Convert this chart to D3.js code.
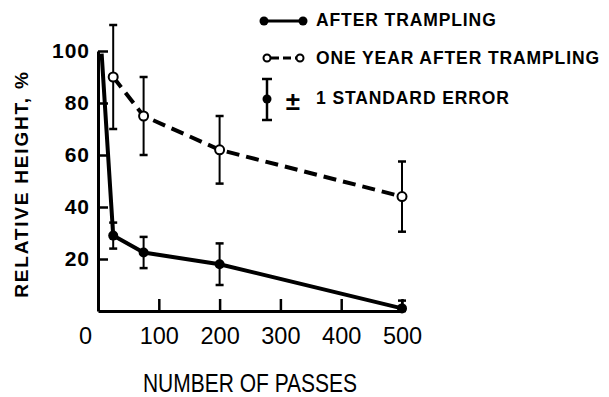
<!DOCTYPE html>
<html>
<head>
<meta charset="utf-8">
<script src="https://cdn.jsdelivr.net/npm/d3@7"></script>
<style>
  body { margin: 0; background: #fff; }
  svg { display: block; }
</style>
</head>
<body>
<div id="chart"></div>
<script>
// values
const afterPasses = [6, 25, 75, 200, 500];
const afterMeans  = [99, 29, 22.5, 18, 1];
const afterSE     = [0, 5, 6, 8, 3];

const yearPasses = [25, 75, 200, 500];
const yearMeans  = [90, 75, 62, 44];
const yearSE     = [20, 15, 13, 13.5];

const xTicks = [0, 100, 200, 300, 400, 500];
const yTicks = [20, 40, 60, 80, 100];

const legendLabels = ['AFTER TRAMPLING', 'ONE YEAR AFTER TRAMPLING', '1 STANDARD ERROR'];

const width = 609, height = 397;

const svg = d3.select('#chart').append('svg')
    .attr('width', width)
    .attr('height', height);

const xScale = d3.scaleLinear().domain([0, 500]).range([98, 402]);
const yScale = d3.scaleLinear().domain([0, 100]).range([311, 51]);

const after = afterPasses.map((p, i) => ({ x: p, y: afterMeans[i], se: afterSE[i] }));
const year = yearPasses.map((p, i) => ({ x: p, y: yearMeans[i], se: yearSE[i] }));

// axes
const xAxis = d3.axisBottom(xScale)
    .tickValues(xTicks)
    .tickSizeInner(-12)
    .tickSizeOuter(0)
    .tickPadding(16)
    .tickFormat(d3.format('d'));

const yAxis = d3.axisLeft(yScale)
    .tickValues(yTicks)
    .tickSizeInner(-10)
    .tickSizeOuter(0)
    .tickPadding(8);

const gx = svg.append('g')
    .attr('transform', `translate(0, ${yScale(0)})`)
    .call(xAxis);
gx.select('.domain').attr('stroke', '#000').attr('stroke-width', 3);
gx.selectAll('.tick line').attr('stroke-width', 2.5).attr('stroke', d => d === 0 ? 'none' : '#000');
gx.selectAll('.tick text')
    .attr('font-family', '"Liberation Sans", Arial, sans-serif')
    .attr('font-size', 23.5)
    .attr('fill', '#000')
    .attr('dx', d => d === 0 ? -13 : 0);

const gy = svg.append('g')
    .attr('transform', `translate(${xScale(0)}, 0)`)
    .call(yAxis);
gy.select('.domain').attr('stroke', '#000').attr('stroke-width', 3);
gy.selectAll('.tick line').attr('stroke-width', 2.5).attr('stroke', '#000');
gy.selectAll('.tick text')
    .attr('font-family', '"Liberation Sans", Arial, sans-serif')
    .attr('font-weight', 'bold')
    .attr('font-size', 21)
    .attr('letter-spacing', 1)
    .attr('fill', '#000');

// axis titles
svg.append('text')
    .attr('transform', `translate(28, 184) rotate(-90)`)
    .attr('text-anchor', 'middle')
    .attr('font-family', '"Liberation Sans", Arial, sans-serif')
    .attr('font-weight', 'bold')
    .attr('font-size', 19)
    .attr('letter-spacing', 1.8)
    .text('RELATIVE HEIGHT, %');

svg.append('text')
    .attr('transform', 'translate(250, 392) scale(0.84, 1)')
    .attr('text-anchor', 'middle')
    .attr('font-family', '"Liberation Sans", Arial, sans-serif')
    .attr('font-size', 25)
    .text('NUMBER OF PASSES');

// lines
const line = d3.line().x(d => xScale(d.x)).y(d => yScale(d.y));

svg.append('path')
    .datum(after)
    .attr('d', line)
    .attr('fill', 'none')
    .attr('stroke', '#000')
    .attr('stroke-width', 4)
    .attr('stroke-linejoin', 'round');

svg.append('path')
    .datum(year)
    .attr('d', line)
    .attr('fill', 'none')
    .attr('stroke', '#000')
    .attr('stroke-width', 4)
    .attr('stroke-dasharray', '13,7');

// error bars
function errorBars(data) {
    const g = svg.append('g').attr('stroke', '#000');
    const bars = data.filter(d => d.se > 0);
    g.selectAll('line.v').data(bars).enter().append('line')
        .attr('x1', d => xScale(d.x)).attr('x2', d => xScale(d.x))
        .attr('y1', d => yScale(d.y + d.se))
        .attr('y2', d => yScale(Math.max(0, d.y - d.se)))
        .attr('stroke-width', 2);
    g.selectAll('line.top').data(bars).enter().append('line')
        .attr('x1', d => xScale(d.x) - 4).attr('x2', d => xScale(d.x) + 4)
        .attr('y1', d => yScale(d.y + d.se)).attr('y2', d => yScale(d.y + d.se))
        .attr('stroke-width', 2.5);
    g.selectAll('line.bot').data(bars).enter().append('line')
        .attr('x1', d => xScale(d.x) - 4).attr('x2', d => xScale(d.x) + 4)
        .attr('y1', d => yScale(Math.max(0, d.y - d.se))).attr('y2', d => yScale(Math.max(0, d.y - d.se)))
        .attr('stroke-width', 2.5);
}
errorBars(after);
errorBars(year);

// markers
svg.selectAll('circle.after')
    .data(after.slice(1))
    .enter().append('circle')
    .attr('cx', d => xScale(d.x))
    .attr('cy', d => yScale(d.y))
    .attr('r', 5)
    .attr('fill', '#000');

svg.selectAll('circle.year')
    .data(year)
    .enter().append('circle')
    .attr('cx', d => xScale(d.x))
    .attr('cy', d => yScale(d.y))
    .attr('r', 4.5)
    .attr('fill', '#fff')
    .attr('stroke', '#000')
    .attr('stroke-width', 2);

// legend
const legend = svg.append('g').attr('font-family', '"Liberation Sans", Arial, sans-serif');
const rowY = [20, 58, 98];

const labels = legend.selectAll('text.lab')
    .data(legendLabels)
    .enter().append('text')
    .attr('x', 316)
    .attr('y', (d, i) => rowY[i] + 6)
    .attr('font-weight', 'bold')
    .attr('font-size', 17.5)
    .text(d => d);

// spread letters so the longest label reaches the right edge like the original
const longest = labels.filter((d, i) => i === 1).node();
const spacing = Math.max(0, (284 - longest.getComputedTextLength()) / legendLabels[1].length);
labels.attr('letter-spacing', spacing);

// row 1: solid line with filled dots
legend.append('line')
    .attr('x1', 264).attr('x2', 303).attr('y1', 21).attr('y2', 21)
    .attr('stroke', '#000').attr('stroke-width', 3);
legend.selectAll('circle.l1').data([264, 303]).enter().append('circle')
    .attr('cx', d => d).attr('cy', 21).attr('r', 4.5).attr('fill', '#000');

// row 2: dashed line with open circles
legend.append('line')
    .attr('x1', 271).attr('x2', 297).attr('y1', 58).attr('y2', 58)
    .attr('stroke', '#000').attr('stroke-width', 3).attr('stroke-dasharray', '8,4');
legend.selectAll('circle.l2').data([267, 300]).enter().append('circle')
    .attr('cx', d => d).attr('cy', 58).attr('r', 3.5)
    .attr('fill', '#fff').attr('stroke', '#000').attr('stroke-width', 2);

// row 3: error bar symbol
legend.append('line')
    .attr('x1', 267).attr('x2', 267).attr('y1', 79).attr('y2', 120)
    .attr('stroke', '#000').attr('stroke-width', 2.5);
legend.selectAll('line.cap').data([79, 120]).enter().append('line')
    .attr('x1', 262).attr('x2', 272).attr('y1', d => d).attr('y2', d => d)
    .attr('stroke', '#000').attr('stroke-width', 2.5);
legend.append('circle').attr('cx', 267).attr('cy', 99).attr('r', 4.5).attr('fill', '#000');
legend.append('text').attr('x', 293).attr('y', 110).attr('text-anchor', 'middle')
    .attr('font-weight', 'bold').attr('font-size', 26).text('\u00b1');
</script>
</body>
</html>
